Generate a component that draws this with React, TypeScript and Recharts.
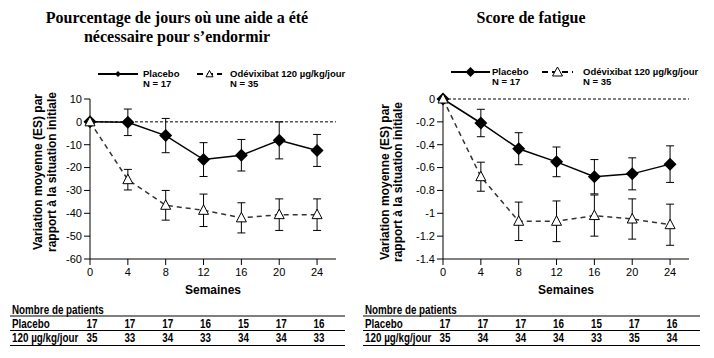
import { LineChart, Line, XAxis, YAxis, ErrorBar, ReferenceLine } from 'recharts';

const WEEKS = [0, 4, 8, 12, 16, 20, 24];

// Pourcentage de jours où une aide a été nécessaire pour s'endormir
const sleepPlacebo = [0, -0.2, -6, -16.5, -14.6, -8.1, -12.5];
const sleepPlaceboSE = [0, 5.8, 7.5, 7.4, 6.9, 8.1, 7];
const sleepOdev = [0, -25.3, -36.5, -38.7, -42, -40.6, -40.6];
const sleepOdevSE = [0, 4.5, 6.5, 7.1, 6.6, 6.9, 6.9];
const sleepTicks = [-60, -50, -40, -30, -20, -10, 0, 10];
const sleepNPlacebo = [17, 17, 17, 16, 15, 17, 16];
const sleepNOdev = [35, 33, 34, 33, 34, 34, 33];

// Score de fatigue
const fatPlacebo = [0, -0.21, -0.435, -0.55, -0.68, -0.655, -0.57];
const fatPlaceboSE = [0, 0.12, 0.14, 0.13, 0.15, 0.14, 0.16];
const fatOdev = [0, -0.68, -1.07, -1.07, -1.02, -1.05, -1.1];
const fatOdevSE = [0, 0.127, 0.168, 0.178, 0.18, 0.176, 0.18];
const fatTicks = [-1.4, -1.2, -1, -0.8, -0.6, -0.4, -0.2, 0];
const fatNPlacebo = [17, 17, 17, 16, 15, 17, 16];
const fatNOdev = [35, 34, 34, 34, 33, 35, 34];

const SANS = "'Liberation Sans', Arial, sans-serif";
const SERIF = "'Liberation Serif', 'Times New Roman', serif";

const X_MAX = 26;
const PLOT_W = 246;

function buildRows(p: number[], pse: number[], o: number[], ose: number[]) {
  return WEEKS.map((w, i) => ({ week: w, placebo: p[i], placeboSE: pse[i], odev: o[i], odevSE: ose[i] }));
}

const Diamond = (props: any) => {
  const { cx, cy, index } = props;
  if (cx == null || cy == null) return <g key={`dm-${index}`} />;
  const r = 6.5;
  return <path key={`dm-${index}`} d={`M${cx},${cy - r}L${cx + r},${cy}L${cx},${cy + r}L${cx - r},${cy}Z`} fill="#000" />;
};

const Triangle = (props: any) => {
  const { cx, cy, index } = props;
  if (cx == null || cy == null) return <g key={`tr-${index}`} />;
  return (
    <path
      key={`tr-${index}`}
      d={`M${cx},${cy - 5.5}L${cx + 5},${cy + 4}L${cx - 5},${cy + 4}Z`}
      fill="#fff"
      stroke="#000"
      strokeWidth={1}
    />
  );
};

interface PanelProps {
  left: number;
  width: number;
  marginLeft: number;
  rows: any[];
  domain: [number, number];
  ticks: number[];
}

function Panel({ left, width, marginLeft, rows, domain, ticks }: PanelProps) {
  return (
    <div style={{ position: 'absolute', left, top: 0 }}>
      <LineChart
        width={width}
        height={300}
        data={rows}
        margin={{ top: 99, right: width - marginLeft - 40 - PLOT_W, bottom: 11, left: marginLeft }}
      >
        <XAxis
          type="number"
          dataKey="week"
          domain={[0, X_MAX]}
          ticks={WEEKS}
          height={30}
          tickMargin={3}
          axisLine={{ stroke: '#000' }}
          tickLine={{ stroke: '#000' }}
          tick={{ fill: '#000', fontSize: 11, fontFamily: SANS }}
        />
        <YAxis
          type="number"
          domain={domain}
          ticks={ticks}
          interval={0}
          width={40}
          axisLine={{ stroke: '#000' }}
          tickLine={{ stroke: '#000' }}
          tick={{ fill: '#000', fontSize: 11, fontFamily: SANS }}
        />
        <ReferenceLine y={0} stroke="#000" strokeDasharray="3 2" strokeWidth={1} />
        <Line
          dataKey="placebo"
          stroke="#000"
          strokeWidth={1.5}
          dot={Diamond}
          activeDot={false}
          isAnimationActive={false}
        >
          <ErrorBar dataKey="placeboSE" direction="y" width={4} stroke="#000" strokeWidth={1} />
        </Line>
        <Line
          dataKey="odev"
          stroke="#333"
          strokeWidth={1.5}
          strokeDasharray="5 4"
          dot={Triangle}
          activeDot={false}
          isAnimationActive={false}
        >
          <ErrorBar dataKey="odevSE" direction="y" width={4} stroke="#000" strokeWidth={1} />
        </Line>
      </LineChart>
    </div>
  );
}

function LegendBlock({ x1, x2, x3, x4, tx1, tx2, y, big }: any) {
  const r = big ? 5 : 3;
  const tm = (x3 + x4) / 2;
  const t = big ? 5 : 3.5;
  return (
    <g>
      <line x1={x1} y1={y} x2={x2} y2={y} stroke="#000" strokeWidth={2} />
      <path d={`M${(x1 + x2) / 2},${y - r}L${(x1 + x2) / 2 + r},${y}L${(x1 + x2) / 2},${y + r}L${(x1 + x2) / 2 - r},${y}Z`} fill="#000" />
      <line x1={x3} y1={y} x2={x4} y2={y} stroke="#000" strokeWidth={2} strokeDasharray="6 4" />
      <path d={`M${tm},${y - t}L${tm + t},${y + t * 0.8}L${tm - t},${y + t * 0.8}Z`} fill="#fff" stroke="#000" strokeWidth={1} />
      <g fontFamily={SANS} fontSize={9.5} fontWeight="bold" fill="#000">
        <text x={tx1} y={y + 3}>Placebo</text>
        <text x={tx1} y={y + 13}>N = 17</text>
        <text x={tx2} y={y + 3}>Odévixibat 120 µg/kg/jour</text>
        <text x={tx2} y={y + 13}>N = 35</text>
      </g>
    </g>
  );
}

// condensed text (the reference uses a narrow face)
function NText({ x, y, anchor, children }: any) {
  return (
    <text transform={`translate(${x},${y}) scale(0.82,1)`} textAnchor={anchor || 'start'}>
      {children}
    </text>
  );
}

function CountTable({ x0, x1, plotLeft, nPlacebo, nOdev }: any) {
  const step = PLOT_W / X_MAX;
  return (
    <g fontFamily={SANS} fontSize={12} fontWeight="bold" fill="#000">
      <NText x={x0 + 2} y={314}>Nombre de patients</NText>
      <line x1={x0} y1={316} x2={x1} y2={316} stroke="#000" strokeWidth={1.2} />
      <NText x={x0 + 2} y={327.5}>Placebo</NText>
      <line x1={x0} y1={330.5} x2={x1} y2={330.5} stroke="#000" strokeWidth={1.2} />
      <NText x={x0 + 2} y={341.5}>120 µg/kg/jour</NText>
      <line x1={x0} y1={345.5} x2={x1} y2={345.5} stroke="#000" strokeWidth={1.2} />
      {WEEKS.map((w, i) => (
        <NText key={`p${i}`} x={plotLeft + w * step + 2} y={327.5} anchor="middle">{nPlacebo[i]}</NText>
      ))}
      {WEEKS.map((w, i) => (
        <NText key={`o${i}`} x={plotLeft + w * step + 2} y={341.5} anchor="middle">{nOdev[i]}</NText>
      ))}
    </g>
  );
}

export default function App() {
  const sleepRows = buildRows(sleepPlacebo, sleepPlaceboSE, sleepOdev, sleepOdevSE);
  const fatRows = buildRows(fatPlacebo, fatPlaceboSE, fatOdev, fatOdevSE);

  return (
    <div style={{ position: 'absolute', left: 0, top: 0, width: 714, height: 358, background: '#fff', fontFamily: SANS }}>
      <Panel left={0} width={360} marginLeft={50} rows={sleepRows} domain={[-60, 10]} ticks={sleepTicks} />
      <Panel left={360} width={354} marginLeft={43} rows={fatRows} domain={[-1.4, 0]} ticks={fatTicks} />
      <svg width={714} height={358} style={{ position: 'absolute', left: 0, top: 0, pointerEvents: 'none' }}>
        <g fontFamily={SERIF} fontSize={16} fontWeight="bold" fill="#000" textAnchor="middle">
          <text x={177} y={23}>Pourcentage de jours où une aide a été</text>
          <text x={177} y={42}>nécessaire pour s’endormir</text>
          <text x={531} y={23}>Score de fatigue</text>
        </g>
        <LegendBlock x1={98} x2={138} x3={197} x4={222} tx1={143} tx2={230} y={74} big={false} />
        <LegendBlock x1={451} x2={490} x3={542} x4={573} tx1={492} tx2={583} y={72} big={true} />
        <g fontFamily={SANS} fontSize={12} fontWeight="bold" fill="#000" textAnchor="middle">
          <text x={38} y={172} transform="rotate(-90 38 172)" dominantBaseline="central">Variation moyenne (ES) par</text>
          <text x={52} y={172} transform="rotate(-90 52 172)" dominantBaseline="central">rapport à la situation initiale</text>
          <text x={385} y={182} transform="rotate(-90 385 182)" dominantBaseline="central">Variation moyenne (ES) par</text>
          <text x={398} y={182} transform="rotate(-90 398 182)" dominantBaseline="central">rapport à la situation initiale</text>
          <text x={213} y={294}>Semaines</text>
          <text x={566} y={294}>Semaines</text>
        </g>
        <CountTable x0={10} x1={345} plotLeft={90} nPlacebo={sleepNPlacebo} nOdev={sleepNOdev} />
        <CountTable x0={363} x1={700} plotLeft={443} nPlacebo={fatNPlacebo} nOdev={fatNOdev} />
      </svg>
    </div>
  );
}
